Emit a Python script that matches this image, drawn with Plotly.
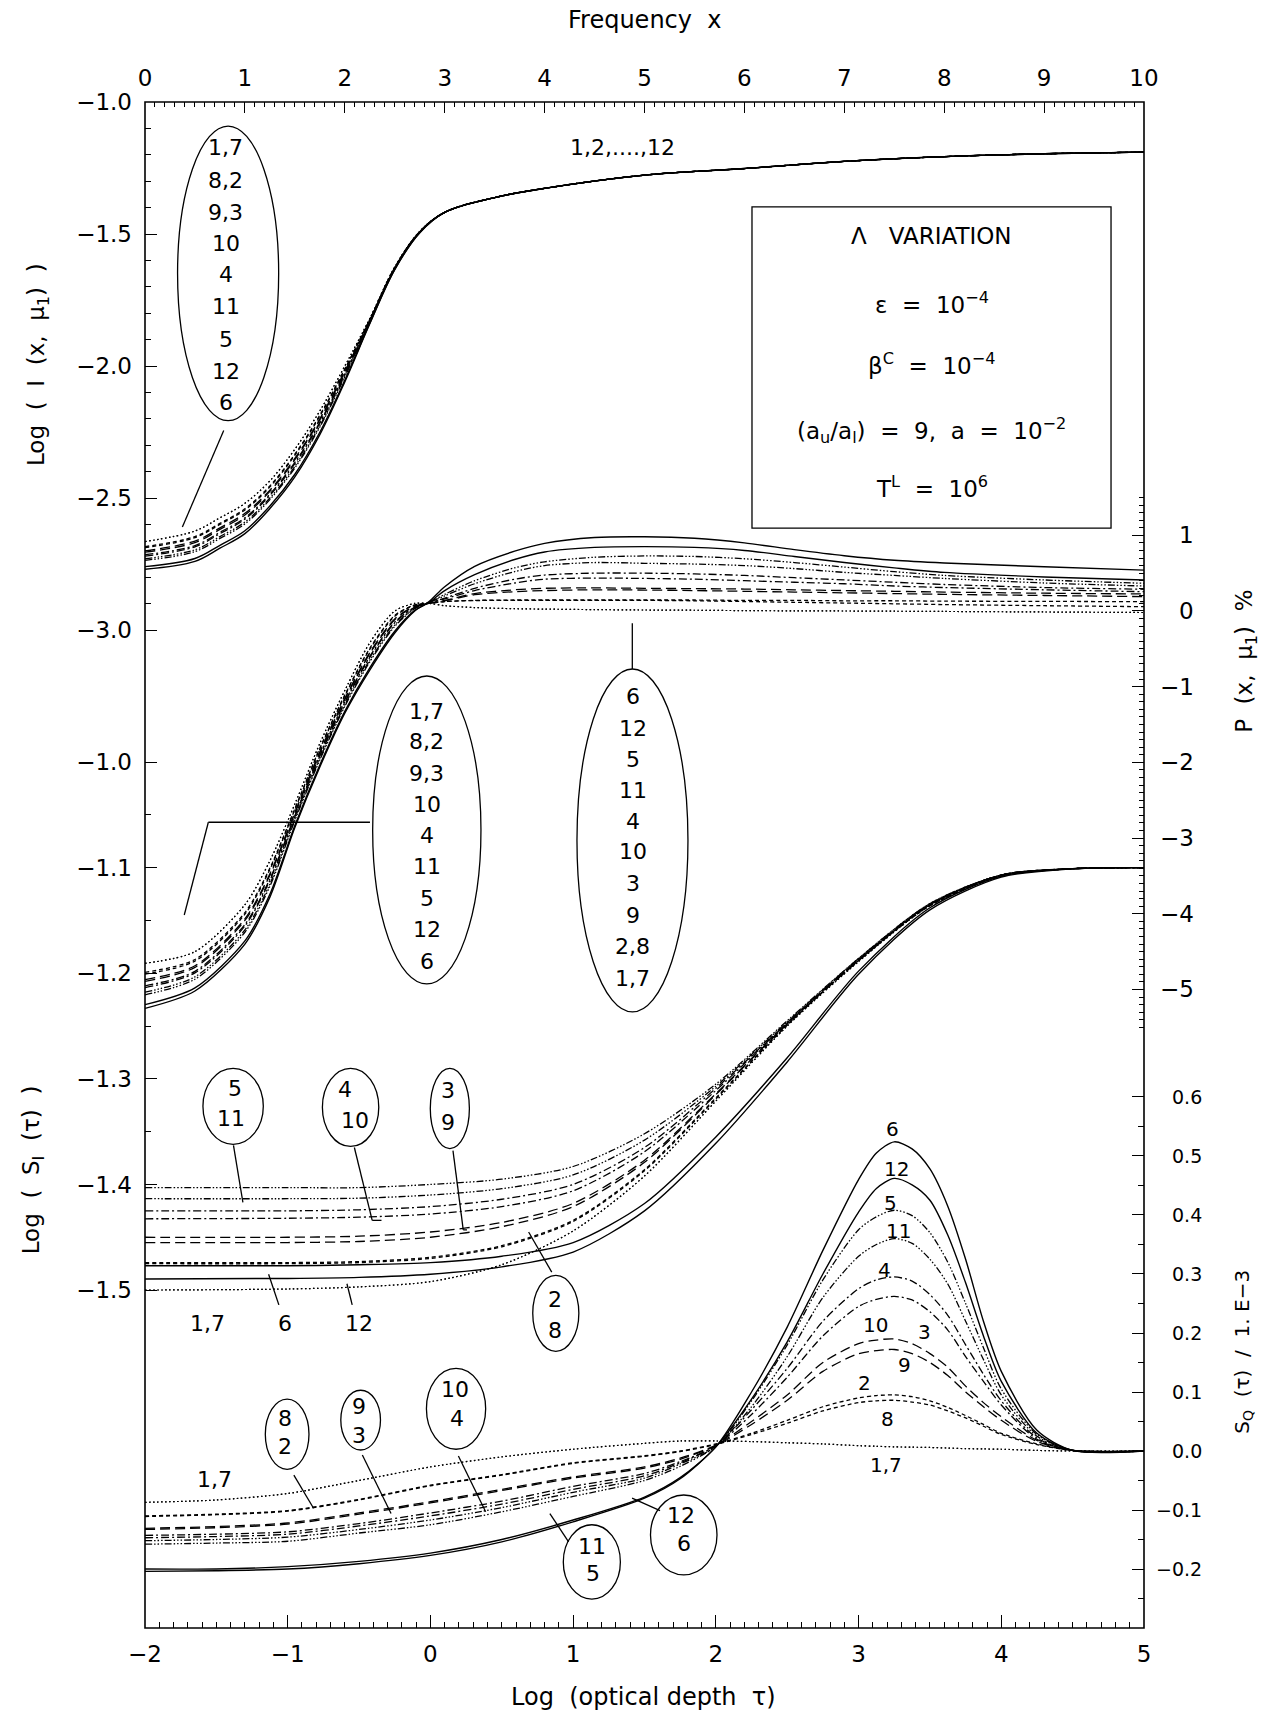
import plotly.graph_objects as go

FONT = "DejaVu Sans"

# ---------------------------------------------------------------- data
LINE_IDS = [1, 7, 8, 2, 9, 3, 10, 4, 11, 5, 12, 6]

# ---- Log I(x, mu1) versus frequency x
FREQ_I = [0, 0.5, 0.75, 1.0, 1.25, 1.5, 1.75, 2.0, 2.25, 2.5, 2.75, 3.0, 3.5, 4.0, 5.0, 6.0, 7.0, 8.0, 9.0, 10.0]
LOGI_1 = [-2.665, -2.625, -2.575, -2.520, -2.435, -2.315, -2.170, -2.000, -1.820, -1.625, -1.490, -1.418, -1.362, -1.327, -1.277, -1.252, -1.225, -1.207, -1.196, -1.190]
LOGI_7 = [-2.665, -2.625, -2.575, -2.520, -2.435, -2.315, -2.170, -2.000, -1.820, -1.625, -1.490, -1.418, -1.362, -1.327, -1.277, -1.252, -1.225, -1.207, -1.196, -1.190]
LOGI_8 = [-2.684, -2.646, -2.596, -2.541, -2.454, -2.334, -2.186, -2.011, -1.824, -1.627, -1.491, -1.418, -1.362, -1.327, -1.277, -1.252, -1.225, -1.207, -1.196, -1.190]
LOGI_2 = [-2.688, -2.650, -2.600, -2.545, -2.458, -2.338, -2.190, -2.013, -1.824, -1.627, -1.491, -1.418, -1.362, -1.327, -1.277, -1.252, -1.225, -1.207, -1.196, -1.190]
LOGI_9 = [-2.700, -2.663, -2.613, -2.558, -2.470, -2.350, -2.200, -2.020, -1.827, -1.628, -1.492, -1.418, -1.362, -1.327, -1.277, -1.252, -1.225, -1.207, -1.196, -1.190]
LOGI_3 = [-2.705, -2.669, -2.619, -2.564, -2.475, -2.355, -2.204, -2.023, -1.828, -1.629, -1.492, -1.418, -1.362, -1.327, -1.277, -1.252, -1.225, -1.207, -1.196, -1.190]
LOGI_10 = [-2.715, -2.680, -2.630, -2.575, -2.485, -2.365, -2.213, -2.029, -1.830, -1.630, -1.492, -1.418, -1.362, -1.327, -1.277, -1.252, -1.225, -1.207, -1.196, -1.190]
LOGI_4 = [-2.720, -2.685, -2.635, -2.580, -2.490, -2.370, -2.217, -2.031, -1.830, -1.630, -1.493, -1.418, -1.362, -1.327, -1.277, -1.252, -1.225, -1.207, -1.196, -1.190]
LOGI_11 = [-2.730, -2.696, -2.646, -2.591, -2.500, -2.380, -2.226, -2.037, -1.832, -1.631, -1.493, -1.418, -1.362, -1.327, -1.277, -1.252, -1.225, -1.207, -1.196, -1.190]
LOGI_5 = [-2.736, -2.703, -2.653, -2.598, -2.506, -2.386, -2.231, -2.041, -1.834, -1.632, -1.493, -1.418, -1.362, -1.327, -1.277, -1.252, -1.225, -1.207, -1.196, -1.190]
LOGI_12 = [-2.760, -2.729, -2.679, -2.624, -2.530, -2.410, -2.251, -2.054, -1.838, -1.634, -1.495, -1.418, -1.362, -1.327, -1.277, -1.252, -1.225, -1.207, -1.196, -1.190]
LOGI_6 = [-2.770, -2.740, -2.690, -2.635, -2.540, -2.420, -2.260, -2.060, -1.840, -1.635, -1.495, -1.418, -1.362, -1.327, -1.277, -1.252, -1.225, -1.207, -1.196, -1.190]

# ---- P(x, mu1) % versus frequency x
FREQ_P = [0, 0.5, 1.0, 1.25, 1.5, 1.75, 2.0, 2.25, 2.5, 2.7, 2.84, 3.0, 3.3, 3.7, 4.0, 4.5, 5.0, 5.5, 6.0, 6.5, 7.0, 7.5, 8.0, 9.0, 10.0]
P_1 = [-4.654, -4.500, -3.880, -3.300, -2.550, -1.750, -1.050, -0.420, 0.000, 0.100, 0.100, 0.070, 0.045, 0.030, 0.025, 0.018, 0.013, 0.010, 0.005, 0.002, 0.000, -0.003, -0.006, -0.013, -0.020]
P_7 = [-4.654, -4.500, -3.880, -3.300, -2.550, -1.750, -1.050, -0.420, 0.000, 0.100, 0.100, 0.070, 0.045, 0.030, 0.025, 0.018, 0.013, 0.010, 0.005, 0.002, 0.000, -0.003, -0.006, -0.013, -0.020]
P_8 = [-4.773, -4.604, -3.984, -3.396, -2.612, -1.812, -1.110, -0.492, -0.058, 0.080, 0.100, 0.125, 0.138, 0.140, 0.140, 0.140, 0.140, 0.135, 0.125, 0.115, 0.105, 0.095, 0.085, 0.070, 0.057]
P_2 = [-4.797, -4.625, -4.005, -3.415, -2.624, -1.824, -1.122, -0.506, -0.070, 0.076, 0.100, 0.125, 0.140, 0.145, 0.145, 0.145, 0.145, 0.145, 0.140, 0.140, 0.135, 0.135, 0.130, 0.127, 0.123]
P_9 = [-4.869, -4.687, -4.067, -3.473, -2.662, -1.862, -1.158, -0.550, -0.104, 0.064, 0.100, 0.135, 0.215, 0.255, 0.270, 0.280, 0.277, 0.270, 0.260, 0.250, 0.240, 0.230, 0.220, 0.205, 0.190]
P_3 = [-4.892, -4.708, -4.088, -3.492, -2.674, -1.874, -1.170, -0.564, -0.116, 0.060, 0.100, 0.140, 0.230, 0.280, 0.300, 0.305, 0.300, 0.295, 0.290, 0.280, 0.270, 0.260, 0.250, 0.235, 0.225]
P_10 = [-4.952, -4.760, -4.140, -3.540, -2.705, -1.905, -1.200, -0.600, -0.145, 0.050, 0.105, 0.160, 0.270, 0.370, 0.420, 0.435, 0.430, 0.420, 0.400, 0.380, 0.360, 0.330, 0.310, 0.280, 0.255]
P_4 = [-4.976, -4.781, -4.161, -3.559, -2.717, -1.917, -1.212, -0.614, -0.157, 0.046, 0.105, 0.170, 0.300, 0.420, 0.475, 0.500, 0.500, 0.490, 0.470, 0.440, 0.410, 0.380, 0.350, 0.310, 0.287]
P_11 = [-5.035, -4.833, -4.213, -3.607, -2.748, -1.948, -1.242, -0.650, -0.186, 0.036, 0.110, 0.200, 0.360, 0.520, 0.600, 0.640, 0.630, 0.620, 0.600, 0.560, 0.510, 0.470, 0.430, 0.370, 0.330]
P_5 = [-5.071, -4.864, -4.244, -3.636, -2.767, -1.967, -1.260, -0.672, -0.203, 0.030, 0.110, 0.220, 0.400, 0.570, 0.650, 0.710, 0.727, 0.720, 0.690, 0.640, 0.580, 0.520, 0.470, 0.410, 0.366]
P_12 = [-5.200, -4.978, -4.358, -3.742, -2.835, -2.035, -1.326, -0.751, -0.267, 0.008, 0.110, 0.270, 0.480, 0.680, 0.780, 0.840, 0.850, 0.840, 0.800, 0.720, 0.640, 0.570, 0.510, 0.450, 0.410]
P_6 = [-5.250, -5.020, -4.400, -3.780, -2.860, -2.060, -1.350, -0.780, -0.290, 0.000, 0.120, 0.320, 0.590, 0.790, 0.894, 0.970, 0.980, 0.960, 0.900, 0.810, 0.730, 0.670, 0.635, 0.585, 0.540]

# ---- Log S_I(tau) versus Log tau
TAU_S = [-2, -1, -0.5, 0, 0.5, 1.0, 1.5, 2.0, 2.5, 3.0, 3.5, 4.0, 4.5, 5.0]
SI_1 = [-1.500, -1.499, -1.497, -1.492, -1.476, -1.444, -1.392, -1.321, -1.250, -1.189, -1.136, -1.108, -1.101, -1.100]
SI_7 = [-1.500, -1.499, -1.497, -1.492, -1.476, -1.444, -1.392, -1.321, -1.250, -1.189, -1.136, -1.108, -1.101, -1.100]
SI_2 = [-1.474, -1.474, -1.473, -1.469, -1.458, -1.434, -1.386, -1.318, -1.249, -1.188, -1.136, -1.108, -1.101, -1.100]
SI_8 = [-1.475, -1.475, -1.474, -1.470, -1.459, -1.435, -1.387, -1.319, -1.249, -1.188, -1.136, -1.108, -1.101, -1.100]
SI_3 = [-1.450, -1.450, -1.449, -1.445, -1.436, -1.418, -1.377, -1.314, -1.248, -1.188, -1.135, -1.107, -1.101, -1.100]
SI_9 = [-1.455, -1.455, -1.454, -1.450, -1.440, -1.421, -1.379, -1.315, -1.248, -1.188, -1.135, -1.107, -1.101, -1.100]
SI_4 = [-1.425, -1.425, -1.424, -1.421, -1.414, -1.400, -1.365, -1.309, -1.247, -1.187, -1.135, -1.107, -1.101, -1.100]
SI_10 = [-1.4325, -1.432, -1.431, -1.428, -1.421, -1.406, -1.369, -1.311, -1.247, -1.187, -1.135, -1.107, -1.101, -1.100]
SI_5 = [-1.403, -1.403, -1.403, -1.400, -1.395, -1.383, -1.352, -1.305, -1.245, -1.186, -1.134, -1.107, -1.101, -1.100]
SI_11 = [-1.4135, -1.4135, -1.413, -1.410, -1.404, -1.391, -1.358, -1.307, -1.246, -1.186, -1.134, -1.107, -1.101, -1.100]
SI_6 = [-1.477, -1.477, -1.476, -1.474, -1.468, -1.455, -1.418, -1.355, -1.280, -1.198, -1.138, -1.108, -1.101, -1.100]
SI_12 = [-1.4895, -1.489, -1.488, -1.485, -1.478, -1.464, -1.425, -1.361, -1.284, -1.201, -1.140, -1.109, -1.101, -1.100]

# ---- S_Q(tau) / 1.E-3 versus Log tau
TAU_Q = [-2, -1.5, -1, -0.5, 0, 0.5, 1, 1.5, 1.75, 2.0, 2.25, 2.5, 2.75, 3.0, 3.125, 3.25, 3.375, 3.5, 3.625, 3.75, 3.875, 4.0, 4.25, 4.5, 5.0]
SQ_1 = [-0.087, -0.083, -0.072, -0.050, -0.027, -0.010, 0.003, 0.013, 0.017, 0.017, 0.016, 0.014, 0.012, 0.009, 0.008, 0.007, 0.0065, 0.006, 0.005, 0.004, 0.0035, 0.003, 0.001, 0.000, 0.000]
SQ_7 = [-0.087, -0.083, -0.072, -0.050, -0.027, -0.010, 0.003, 0.013, 0.017, 0.017, 0.016, 0.014, 0.012, 0.009, 0.008, 0.007, 0.0065, 0.006, 0.005, 0.004, 0.0035, 0.003, 0.001, 0.000, 0.000]
SQ_2 = [-0.110, -0.107, -0.101, -0.082, -0.058, -0.040, -0.020, -0.008, 0.000, 0.012, 0.030, 0.052, 0.075, 0.090, 0.094, 0.095, 0.092, 0.085, 0.074, 0.060, 0.045, 0.030, 0.012, 0.001, 0.000]
SQ_8 = [-0.111, -0.108, -0.102, -0.083, -0.059, -0.041, -0.021, -0.009, -0.001, 0.011, 0.028, 0.047, 0.068, 0.082, 0.085, 0.086, 0.083, 0.078, 0.068, 0.056, 0.042, 0.028, 0.011, 0.001, 0.000]
SQ_3 = [-0.131, -0.128, -0.122, -0.105, -0.086, -0.065, -0.044, -0.027, -0.012, 0.010, 0.050, 0.095, 0.150, 0.182, 0.188, 0.190, 0.182, 0.165, 0.142, 0.110, 0.082, 0.058, 0.018, 0.001, 0.000]
SQ_9 = [-0.133, -0.130, -0.124, -0.107, -0.088, -0.067, -0.046, -0.029, -0.014, 0.009, 0.045, 0.086, 0.135, 0.165, 0.170, 0.172, 0.165, 0.150, 0.128, 0.100, 0.075, 0.052, 0.016, 0.001, 0.000]
SQ_4 = [-0.143, -0.141, -0.137, -0.123, -0.105, -0.085, -0.060, -0.038, -0.018, 0.009, 0.070, 0.140, 0.220, 0.275, 0.290, 0.295, 0.288, 0.265, 0.230, 0.180, 0.130, 0.085, 0.022, 0.001, 0.000]
SQ_10 = [-0.147, -0.145, -0.141, -0.127, -0.110, -0.090, -0.065, -0.042, -0.020, 0.009, 0.062, 0.125, 0.195, 0.245, 0.257, 0.262, 0.256, 0.236, 0.205, 0.160, 0.118, 0.078, 0.020, 0.001, 0.000]
SQ_5 = [-0.152, -0.150, -0.146, -0.133, -0.117, -0.096, -0.070, -0.046, -0.022, 0.008, 0.085, 0.180, 0.290, 0.375, 0.397, 0.408, 0.399, 0.370, 0.320, 0.250, 0.175, 0.105, 0.028, 0.001, 0.000]
SQ_11 = [-0.158, -0.156, -0.153, -0.139, -0.125, -0.103, -0.077, -0.050, -0.026, 0.008, 0.075, 0.160, 0.260, 0.330, 0.350, 0.360, 0.352, 0.325, 0.283, 0.220, 0.155, 0.095, 0.025, 0.001, 0.000]
SQ_6 = [-0.200, -0.200, -0.196, -0.187, -0.173, -0.150, -0.117, -0.078, -0.045, 0.007, 0.100, 0.210, 0.340, 0.460, 0.505, 0.524, 0.512, 0.478, 0.415, 0.325, 0.220, 0.135, 0.035, 0.001, 0.000]
SQ_12 = [-0.204, -0.203, -0.200, -0.191, -0.177, -0.154, -0.120, -0.080, -0.047, 0.007, 0.088, 0.185, 0.300, 0.405, 0.445, 0.462, 0.451, 0.425, 0.366, 0.285, 0.195, 0.118, 0.030, 0.001, 0.000]

# ---- tick values
TAU_TICKS = [-2, -1, 0, 1, 2, 3, 4, 5]
FREQ_TICKS = [0, 1, 2, 3, 4, 5, 6, 7, 8, 9, 10]
LOGI_TICKS = [-1.0, -1.5, -2.0, -2.5, -3.0]
SI_TICKS = [-1.0, -1.1, -1.2, -1.3, -1.4, -1.5]
P_TICKS = [1, 0, -1, -2, -3, -4, -5]
SQ_TICKS = [0.6, 0.5, 0.4, 0.3, 0.2, 0.1, 0.0, -0.1, -0.2]

# ---------------------------------------------------------------- styles
DASH = {
    "dot": "1.5px,2.5px",
    "short": "4px,3px",
    "long": "10px,5px",
    "dashdot": "8px,3px,2px,3px",
    "dash3dot": "7px,2px,1.5px,2px,1.5px,2px,1.5px,2px",
    "solid": "solid",
}
LINE_STYLE = {1: "dot", 7: "dot", 2: "short", 8: "short", 3: "long", 9: "long",
              4: "dashdot", 10: "dashdot", 5: "dash3dot", 11: "dash3dot",
              6: "solid", 12: "solid"}

LOGI = {1: LOGI_1, 2: LOGI_2, 3: LOGI_3, 4: LOGI_4, 5: LOGI_5, 6: LOGI_6,
        7: LOGI_7, 8: LOGI_8, 9: LOGI_9, 10: LOGI_10, 11: LOGI_11, 12: LOGI_12}
PPOL = {1: P_1, 2: P_2, 3: P_3, 4: P_4, 5: P_5, 6: P_6,
        7: P_7, 8: P_8, 9: P_9, 10: P_10, 11: P_11, 12: P_12}
SI = {1: SI_1, 2: SI_2, 3: SI_3, 4: SI_4, 5: SI_5, 6: SI_6,
      7: SI_7, 8: SI_8, 9: SI_9, 10: SI_10, 11: SI_11, 12: SI_12}
SQ = {1: SQ_1, 2: SQ_2, 3: SQ_3, 4: SQ_4, 5: SQ_5, 6: SQ_6,
      7: SQ_7, 8: SQ_8, 9: SQ_9, 10: SQ_10, 11: SQ_11, 12: SQ_12}

# axis ids: x2 = log tau (bottom), x3 = frequency (top)
#           y2 = Log I, y3 = Log S_I, y4 = P %, y5 = S_Q
AX_TAU, AX_FREQ = "x2", "x3"
AX_I, AX_SI, AX_P, AX_SQ = "y2", "y3", "y4", "y5"

fig = go.Figure()


def line_style(k, smooth=0.8):
    st = LINE_STYLE[k]
    w = 1.4 if st == "solid" else (1.2 if st == "dot" else 1.3)
    return dict(color="black", width=w, dash=DASH[st], shape="spline", smoothing=smooth)


for k in LINE_IDS:
    fig.add_trace(go.Scatter(x=FREQ_I, y=LOGI[k], xaxis=AX_FREQ, yaxis=AX_I, mode="lines",
                             line=line_style(k, 1.0), hoverinfo="skip", name=f"I {k}"))
for k in LINE_IDS:
    fig.add_trace(go.Scatter(x=FREQ_P, y=PPOL[k], xaxis=AX_FREQ, yaxis=AX_P, mode="lines",
                             line=line_style(k), hoverinfo="skip", name=f"P {k}"))
for k in LINE_IDS:
    fig.add_trace(go.Scatter(x=TAU_S, y=SI[k], xaxis=AX_TAU, yaxis=AX_SI, mode="lines",
                             line=line_style(k), hoverinfo="skip", name=f"SI {k}"))
for k in LINE_IDS:
    fig.add_trace(go.Scatter(x=TAU_Q, y=SQ[k], xaxis=AX_TAU, yaxis=AX_SQ, mode="lines",
                             line=line_style(k), hoverinfo="skip", name=f"SQ {k}"))


def minus(s):
    return s.replace("-", "\u2212")


def frange(a, b, step):
    n = int(round((b - a) / step))
    return [round(a + i * step, 4) for i in range(n + 1)]


def minor_between(a, b, step, majors):
    return [v for v in frange(a, b, step) if all(abs(v - m) > 1e-6 for m in majors)]


TICKFONT = dict(family=FONT, size=23, color="black")
common = dict(showgrid=False, zeroline=False, showline=False, ticks="inside",
              tickcolor="black", tickwidth=1.3, tickfont=TICKFONT, tickmode="array")
hidden = dict(visible=False, range=[0, 1], showgrid=False, zeroline=False)


def minor(vals, ln):
    return dict(tickmode="array", tickvals=vals, ticklen=ln, tickwidth=1,
                tickcolor="black", ticks="inside")


fig.update_layout(
    width=1273, height=1714,
    margin=dict(l=145, r=129, t=102, b=86),
    paper_bgcolor="white", plot_bgcolor="rgba(0,0,0,0)",
    showlegend=False, hovermode=False,
    font=dict(family=FONT, size=22, color="black"),
    xaxis=hidden, yaxis=hidden,
    xaxis2=dict(range=[-2, 5], overlaying="x", side="bottom", anchor="y",
                tickvals=TAU_TICKS, ticktext=[minus(str(v)) for v in TAU_TICKS], ticklen=13,
                ticklabelstandoff=10, minor=minor(minor_between(-2, 5, 0.1, TAU_TICKS), 6),
                **common),
    xaxis3=dict(range=[0, 10], overlaying="x", side="top", anchor="y",
                tickvals=FREQ_TICKS, ticktext=[str(v) for v in FREQ_TICKS], ticklen=11,
                ticklabelstandoff=10, minor=minor(minor_between(0, 10, 0.1, FREQ_TICKS), 5),
                **common),
    yaxis2=dict(range=[-6.780, -1.0], overlaying="y", side="left", anchor="x",
                tickvals=LOGI_TICKS, ticktext=[minus(f"{v:.1f}") for v in LOGI_TICKS],
                ticklen=12, ticklabelstandoff=12,
                minor=minor(minor_between(-3.0, -1.0, 0.1, LOGI_TICKS), 6), **common),
    yaxis3=dict(range=[-1.820, -0.375], overlaying="y", side="left", anchor="x",
                tickvals=SI_TICKS, ticktext=[minus(f"{v:.1f}") for v in SI_TICKS],
                ticklen=12, ticklabelstandoff=12,
                minor=minor(minor_between(-1.5, -1.0, 0.05, SI_TICKS), 6), **common),
    yaxis4=dict(range=[-13.435, 6.724], overlaying="y", side="right", anchor="x",
                tickvals=P_TICKS, showticklabels=False, ticklen=12,
                minor=minor(minor_between(-5.5, 1.5, 0.1, P_TICKS), 5), **common),
    yaxis5=dict(range=[-0.300, 2.2864], overlaying="y", side="right", anchor="x",
                tickvals=SQ_TICKS, showticklabels=False, ticklen=12,
                minor=minor(minor_between(-0.25, 0.55, 0.1, []), 6), **common),
)

shapes = []
annotations = []

shapes.append(dict(type="rect", xref="paper", yref="paper", x0=0, x1=1, y0=0, y1=1,
                   line=dict(color="black", width=1.6), layer="above"))


def ellipse(xr, yr, x0, x1, y0, y1):
    shapes.append(dict(type="circle", xref=xr, yref=yr, x0=x0, x1=x1, y0=y0, y1=y1,
                       line=dict(color="black", width=1.3)))


def seg(xr, yr, x0, y0, x1, y1):
    shapes.append(dict(type="line", xref=xr, yref=yr, x0=x0, y0=y0, x1=x1, y1=y1,
                       line=dict(color="black", width=1.3)))


def text(t, xr, yr, x, y, size=22, **kw):
    d = dict(text=t, xref=xr, yref=yr, x=x, y=y, showarrow=False,
             font=dict(family=FONT, size=size, color="black"),
             xanchor="center", yanchor="middle")
    d.update(kw)
    annotations.append(d)


# ---- upper intensity panel
ellipse(AX_FREQ, AX_I, 0.326, 1.338, -2.207, -1.091)
for lab, yy in zip(["1,7", "8,2", "9,3", "10", "4", "11", "5", "12", "6"],
                   [-1.173, -1.299, -1.419, -1.537, -1.655, -1.775, -1.898, -2.019, -2.139]):
    text(lab, AX_FREQ, AX_I, 0.81, yy)
seg(AX_FREQ, AX_I, 0.788, -2.244, 0.374, -2.61)
text("1,2,....,12", AX_FREQ, AX_I, 4.775, -1.174, size=22)

shapes.append(dict(type="rect", xref=AX_FREQ, yref=AX_I, x0=6.076, x1=9.67, y0=-2.614, y1=-1.397,
                   line=dict(color="black", width=1.3)))
box_lines = [
    ("\u039b&nbsp;&nbsp;&nbsp;VARIATION", -1.507),
    ("\u03b5&nbsp;&nbsp;=&nbsp;&nbsp;10<sup>\u22124</sup>", -1.762),
    ("\u03b2<sup>C</sup>&nbsp;&nbsp;=&nbsp;&nbsp;10<sup>\u22124</sup>", -1.993),
    ("(a<sub>u</sub>/a<sub>l</sub>)&nbsp;&nbsp;=&nbsp;&nbsp;9,&nbsp;&nbsp;a&nbsp;&nbsp;=&nbsp;&nbsp;10<sup>\u22122</sup>", -2.245),
    ("T<sup>L</sup>&nbsp;&nbsp;=&nbsp;&nbsp;10<sup>6</sup>", -2.46),
]
for t, yy in box_lines:
    text(t, AX_FREQ, AX_I, 7.873, yy, size=23)

# ---- polarization panel
ellipse(AX_FREQ, AX_P, 2.279, 3.363, -4.927, -0.859)
for lab, yy in zip(["1,7", "8,2", "9,3", "10", "4", "11", "5", "12", "6"],
                   [-1.33, -1.727, -2.144, -2.55, -2.972, -3.378, -3.795, -4.214, -4.633]):
    text(lab, AX_FREQ, AX_P, 2.82, yy)
seg(AX_FREQ, AX_P, 2.252, -2.791, 0.634, -2.791)
seg(AX_FREQ, AX_P, 0.634, -2.791, 0.393, -4.016)

ellipse(AX_FREQ, AX_P, 4.324, 5.435, -5.297, -0.766)
for lab, yy in zip(["6", "12", "5", "11", "4", "10", "3", "9", "2,8", "1,7"],
                   [-1.132, -1.55, -1.959, -2.365, -2.783, -3.18, -3.597, -4.016, -4.435, -4.852]):
    text(lab, AX_FREQ, AX_P, 4.88, yy)
seg(AX_FREQ, AX_P, 4.878, -0.162, 4.878, -0.766)

# ---- S_I panel
ellipse(AX_TAU, AX_SI, -1.594, -1.171, -1.362, -1.290)
text("5", AX_TAU, AX_SI, -1.371, -1.309)
text("11", AX_TAU, AX_SI, -1.40, -1.338)
seg(AX_TAU, AX_SI, -1.380, -1.363, -1.314, -1.417)

ellipse(AX_TAU, AX_SI, -0.757, -0.362, -1.364, -1.290)
text("4", AX_TAU, AX_SI, -0.60, -1.310)
text("10", AX_TAU, AX_SI, -0.529, -1.339)
seg(AX_TAU, AX_SI, -0.533, -1.365, -0.408, -1.434)
seg(AX_TAU, AX_SI, -0.408, -1.434, -0.343, -1.434)

ellipse(AX_TAU, AX_SI, -0.001, 0.273, -1.366, -1.290)
text("3", AX_TAU, AX_SI, 0.125, -1.311)
text("9", AX_TAU, AX_SI, 0.125, -1.341)
seg(AX_TAU, AX_SI, 0.158, -1.368, 0.23, -1.443)
seg(AX_TAU, AX_SI, 0.23, -1.443, 0.256, -1.443)

ellipse(AX_TAU, AX_SI, 0.717, 1.040, -1.558, -1.486)
text("2", AX_TAU, AX_SI, 0.873, -1.509)
text("8", AX_TAU, AX_SI, 0.873, -1.538)
seg(AX_TAU, AX_SI, 0.85, -1.483, 0.688, -1.445)

text("1,7", AX_TAU, AX_SI, -1.559, -1.532)
text("6", AX_TAU, AX_SI, -1.019, -1.532)
text("12", AX_TAU, AX_SI, -0.50, -1.532)
seg(AX_TAU, AX_SI, -1.062, -1.514, -1.134, -1.485)
seg(AX_TAU, AX_SI, -0.548, -1.514, -0.585, -1.494)

# ---- S_Q panel
ellipse(AX_TAU, AX_SQ, -1.157, -0.851, -0.031, 0.088)
text("8", AX_TAU, AX_SQ, -1.022, 0.055)
text("2", AX_TAU, AX_SQ, -1.022, 0.007)
seg(AX_TAU, AX_SQ, -0.957, -0.041, -0.819, -0.097)

ellipse(AX_TAU, AX_SQ, -0.628, -0.35, 0.0017, 0.103)
text("9", AX_TAU, AX_SQ, -0.5, 0.075)
text("3", AX_TAU, AX_SQ, -0.5, 0.027)
seg(AX_TAU, AX_SQ, -0.477, -0.0068, -0.276, -0.106)

ellipse(AX_TAU, AX_SQ, -0.028, 0.387, 0.003, 0.14)
text("10", AX_TAU, AX_SQ, 0.172, 0.105)
text("4", AX_TAU, AX_SQ, 0.186, 0.055)
seg(AX_TAU, AX_SQ, 0.196, -0.0085, 0.387, -0.103)

text("1,7", AX_TAU, AX_SQ, -1.514, -0.049)

ellipse(AX_TAU, AX_SQ, 0.931, 1.331, -0.251, -0.125)
text("11", AX_TAU, AX_SQ, 1.131, -0.162)
text("5", AX_TAU, AX_SQ, 1.137, -0.208)
seg(AX_TAU, AX_SQ, 0.968, -0.154, 0.837, -0.106)

ellipse(AX_TAU, AX_SQ, 1.542, 2.008, -0.21, -0.0746)
text("12", AX_TAU, AX_SQ, 1.758, -0.11)
text("6", AX_TAU, AX_SQ, 1.777, -0.156)
seg(AX_TAU, AX_SQ, 1.609, -0.101, 1.413, -0.080)

for lab, xx, yy in [("6", 3.237, 0.545), ("12", 3.266, 0.478), ("5", 3.223, 0.421),
                    ("11", 3.281, 0.373), ("4", 3.180, 0.306), ("10", 3.122, 0.2136),
                    ("3", 3.461, 0.202), ("9", 3.323, 0.146), ("2", 3.045, 0.116),
                    ("8", 3.203, 0.055), ("1,7", 3.195, -0.024)]:
    text(lab, AX_TAU, AX_SQ, xx, yy, size=20)

# ---- right-hand tick labels (right aligned, as in the original)
for v in P_TICKS:
    text(minus(str(v)), "paper", AX_P, 1.052, v, size=23, xanchor="right")
for v in SQ_TICKS:
    text(minus(f"{v:.1f}"), "paper", AX_SQ, 1.060, v, size=19, xanchor="right")

# ---- axis titles
text("Frequency&nbsp;&nbsp;x", "paper", "paper", 0.5005, 1.0537, size=24)
text("Log&nbsp;&nbsp;(optical&nbsp;depth&nbsp;&nbsp;\u03c4)", "paper", "paper", 0.4985, -0.0452, size=24)
text("Log&nbsp;&nbsp;(&nbsp;&nbsp;I&nbsp;&nbsp;(x,&nbsp;&nbsp;\u03bc<sub>1</sub>)&nbsp;&nbsp;)", "paper", "paper",
     -0.107, 0.8277, size=23, textangle=-90)
text("Log&nbsp;&nbsp;(&nbsp;&nbsp;S<sub>I</sub>&nbsp;&nbsp;(\u03c4)&nbsp;&nbsp;)", "paper", "paper",
     -0.112, 0.300, size=23, textangle=-90)
text("P&nbsp;&nbsp;(x,&nbsp;&nbsp;\u03bc<sub>1</sub>)&nbsp;&nbsp;%", "paper", "paper",
     1.102, 0.6337, size=23, textangle=-90)
text("S<sub>Q</sub>&nbsp;&nbsp;(\u03c4)&nbsp;&nbsp;/&nbsp;&nbsp;1.&nbsp;E\u22123", "paper", "paper",
     1.099, 0.181, size=20, textangle=-90)

fig.update_layout(shapes=shapes, annotations=annotations)

fig.write_html("out.html", include_plotlyjs=True, config={"displayModeBar": False},
               post_script="document.body.style.margin='0';")
